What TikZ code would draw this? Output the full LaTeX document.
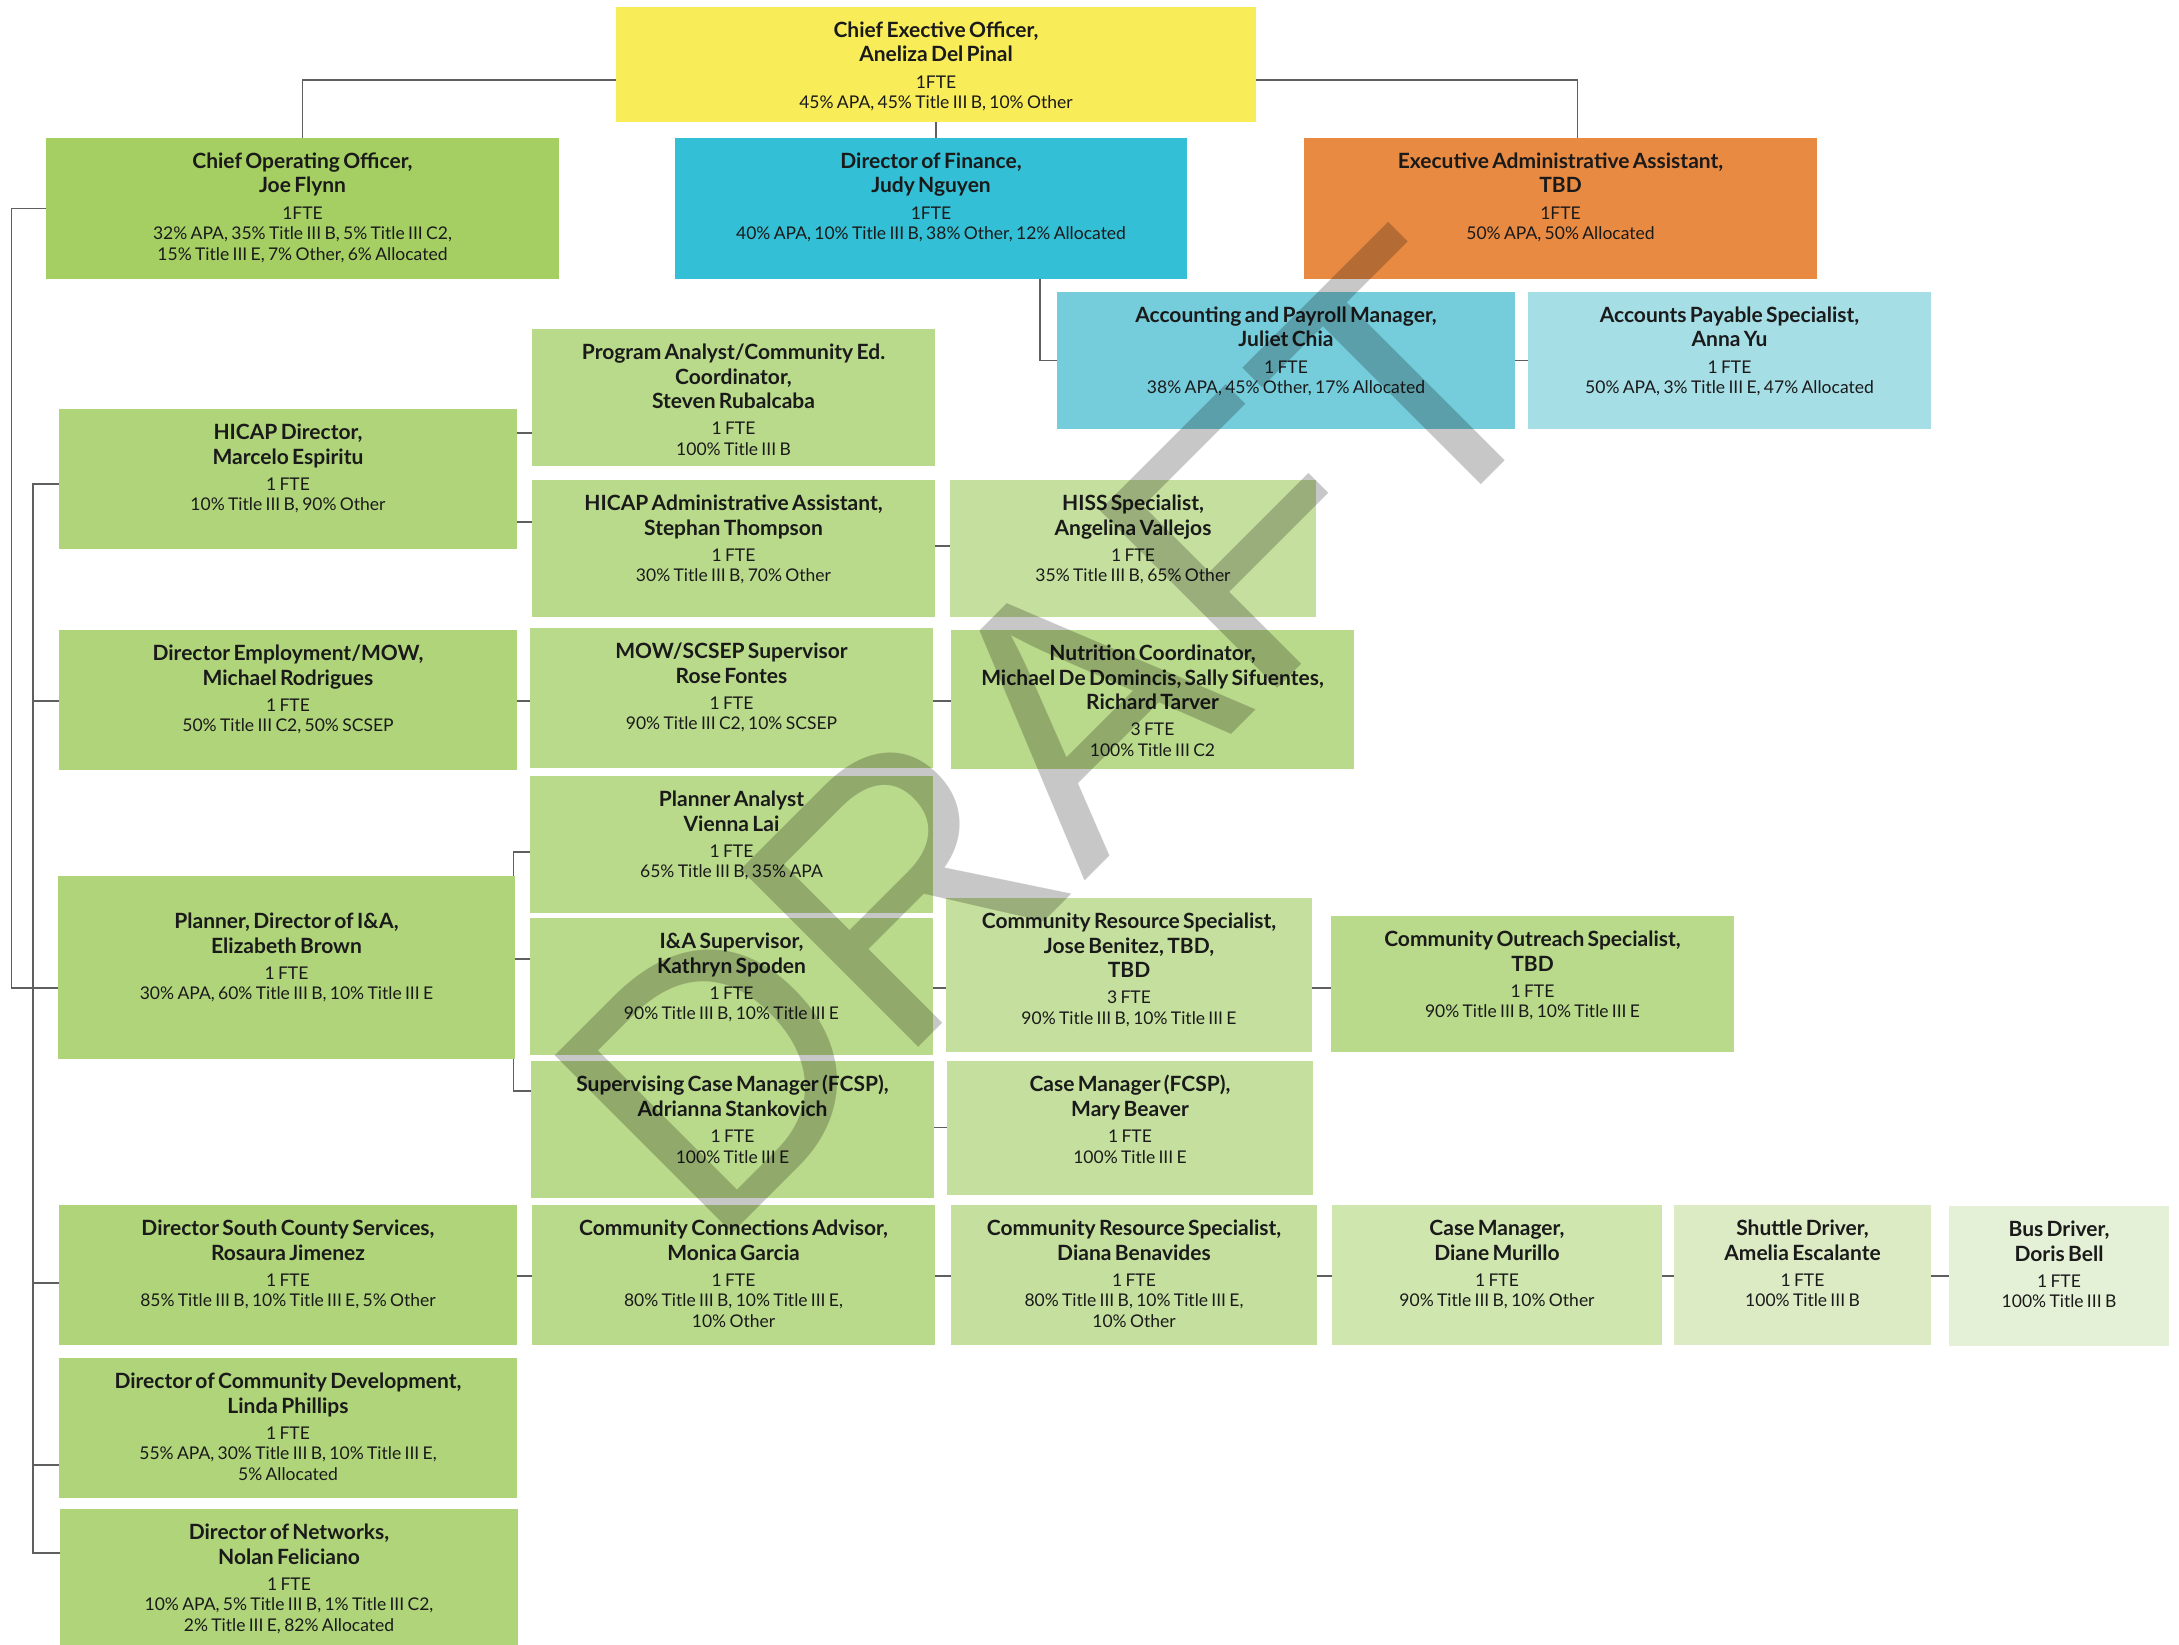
\documentclass[tikz,border=0pt]{standalone}
\usepackage{fontspec}
\setmainfont{Lato}
\newfontfamily\wmfont{Liberation Sans}
\usetikzlibrary{fit,backgrounds}
\setlength{\parindent}{0pt}
\setlength{\parskip}{0pt}
\definecolor{ceoY}{HTML}{F8EC58}
\definecolor{cooG}{HTML}{A5CF63}
\definecolor{finC}{HTML}{33BFD5}
\definecolor{eaaO}{HTML}{E98A43}
\definecolor{acctC}{HTML}{75CDDC}
\definecolor{apC}{HTML}{A6DEE6}
\definecolor{dirG}{HTML}{B0D47A}
\definecolor{lvlB}{HTML}{BADA8B}
\definecolor{lvlC}{HTML}{C5E09E}
\definecolor{murG}{HTML}{D0E6AF}
\definecolor{shutG}{HTML}{DCEBC4}
\definecolor{busG}{HTML}{E5F1D7}
\definecolor{connc}{HTML}{5F5F5F}
\definecolor{txtc}{HTML}{1A1A1A}
\tikzset{
  obox/.style={inner sep=0pt, outer sep=0pt, draw=none},
  otext/.style={inner sep=0pt, outer sep=0pt, align=center, text=txtc},
  conn/.style={line width=1.8pt, draw=connc},
}
\newcommand\ttl{\fontsize{21}{24.5}\selectfont\bfseries}
\newcommand\dtl{\fontsize{17.5}{20.5}\selectfont\mdseries}
\newcommand\obox[9]{%
  \pgfmathsetmacro\obw{#4-#2-6}%
  \node[obox, fill=#6, fit={(#2,#3) (#4,#5)}] (#1) {};
  \node[otext, text width=\obw pt, anchor=north] (#1-t) at ([yshift={-14.5pt-#9pt}]#1.north)
    {\ttl\rule{0pt}{16pt}#7\par\vspace{5.6pt}\dtl #8\par};
}
\begin{document}
\begin{tikzpicture}[x=1pt,y=-1pt]
\begin{pgfonlayer}{background}
\fill[white] (0,0) rectangle (2179,1645);
\end{pgfonlayer}
\useasboundingbox (0,0) rectangle (2179,1645);

\obox{ceo}{616}{7}{1256}{122}{ceoY}{Chief Exective Officer,\\Aneliza Del Pinal}{1FTE\\45\% APA, 45\% Title III B, 10\% Other}{0}
\obox{coo}{46}{138}{559}{279}{cooG}{Chief Operating Officer,\\Joe Flynn}{1FTE\\32\% APA, 35\% Title III B, 5\% Title III C2,\\15\% Title III E, 7\% Other, 6\% Allocated}{0}
\obox{fin}{675}{138}{1187}{279}{finC}{Director of Finance,\\Judy Nguyen}{1FTE\\40\% APA, 10\% Title III B, 38\% Other, 12\% Allocated}{0}
\obox{eaa}{1304}{138}{1817}{279}{eaaO}{Executive Administrative Assistant,\\TBD}{1FTE\\50\% APA, 50\% Allocated}{0}
\obox{acct}{1057}{292}{1515}{429}{acctC}{Accounting and Payroll Manager,\\Juliet Chia}{1 FTE\\38\% APA, 45\% Other, 17\% Allocated}{0}
\obox{ap}{1528}{292}{1931}{429}{apC}{Accounts Payable Specialist,\\Anna Yu}{1 FTE\\50\% APA, 3\% Title III E, 47\% Allocated}{0}

\obox{hicap}{59}{409}{517}{549}{dirG}{HICAP Director,\\Marcelo Espiritu}{1 FTE\\10\% Title III B, 90\% Other}{0}
\obox{prog}{532}{329}{935}{466}{lvlB}{Program Analyst/Community Ed.\\Coordinator,\\Steven Rubalcaba}{1 FTE\\100\% Title III B}{0}
\obox{hadmin}{532}{480}{935}{617}{lvlB}{HICAP Administrative Assistant,\\Stephan Thompson}{1 FTE\\30\% Title III B, 70\% Other}{0}
\obox{hiss}{950}{480}{1316}{617}{lvlC}{HISS Specialist,\\Angelina Vallejos}{1 FTE\\35\% Title III B, 65\% Other}{0}

\obox{emp}{59}{630}{517}{770}{dirG}{Director Employment/MOW,\\Michael Rodrigues}{1 FTE\\50\% Title III C2, 50\% SCSEP}{0}
\obox{mow}{530}{628}{933}{768}{lvlB}{MOW/SCSEP Supervisor\\Rose Fontes}{1 FTE\\90\% Title III C2, 10\% SCSEP}{0}
\obox{nutr}{951}{630}{1354}{769}{lvlB}{Nutrition Coordinator,\\Michael De Domincis, Sally Sifuentes,\\Richard Tarver}{3 FTE\\100\% Title III C2}{0}

\obox{plan}{58}{876}{515}{1059}{dirG}{Planner, Director of I\&A,\\Elizabeth Brown}{1 FTE\\30\% APA, 60\% Title III B, 10\% Title III E}{22}
\obox{pa}{530}{776}{933}{913}{lvlB}{Planner Analyst\\Vienna Lai}{1 FTE\\65\% Title III B, 35\% APA}{0}
\obox{ia}{530}{918}{933}{1055}{lvlB}{I\&A Supervisor,\\Kathryn Spoden}{1 FTE\\90\% Title III B, 10\% Title III E}{0}
\obox{scm}{531}{1061}{934}{1198}{lvlB}{Supervising Case Manager (FCSP),\\Adrianna Stankovich}{1 FTE\\100\% Title III E}{0}
\obox{crs}{946}{898}{1312}{1052}{lvlC}{Community Resource Specialist,\\Jose Benitez, TBD,\\TBD}{3 FTE\\90\% Title III B, 10\% Title III E}{0}
\obox{cos}{1331}{916}{1734}{1052}{lvlB}{Community Outreach Specialist,\\TBD}{1 FTE\\90\% Title III B, 10\% Title III E}{0}
\obox{cmf}{947}{1061}{1313}{1195}{lvlC}{Case Manager (FCSP),\\Mary Beaver}{1 FTE\\100\% Title III E}{0}

\obox{south}{59}{1205}{517}{1345}{dirG}{Director South County Services,\\Rosaura Jimenez}{1 FTE\\85\% Title III B, 10\% Title III E, 5\% Other}{0}
\obox{cca}{532}{1205}{935}{1345}{lvlB}{Community Connections Advisor,\\Monica Garcia}{1 FTE\\80\% Title III B, 10\% Title III E,\\10\% Other}{0}
\obox{diana}{951}{1205}{1317}{1345}{lvlC}{Community Resource Specialist,\\Diana Benavides}{1 FTE\\80\% Title III B, 10\% Title III E,\\10\% Other}{0}
\obox{murillo}{1332}{1205}{1662}{1345}{murG}{Case Manager,\\Diane Murillo}{1 FTE\\90\% Title III B, 10\% Other}{0}
\obox{shuttle}{1674}{1205}{1931}{1345}{shutG}{Shuttle Driver,\\Amelia Escalante}{1 FTE\\100\% Title III B}{0}
\obox{bus}{1949}{1206}{2169}{1346}{busG}{Bus Driver,\\Doris Bell}{1 FTE\\100\% Title III B}{0}
\obox{cdev}{59}{1358}{517}{1498}{dirG}{Director of Community Development,\\Linda Phillips}{1 FTE\\55\% APA, 30\% Title III B, 10\% Title III E,\\5\% Allocated}{0}
\obox{net}{60}{1509}{518}{1645}{dirG}{Director of Networks,\\Nolan Feliciano}{1 FTE\\10\% APA, 5\% Title III B, 1\% Title III C2,\\2\% Title III E, 82\% Allocated}{0}

\begin{pgfonlayer}{background}
\coordinate (ceoL) at (616,80);
\coordinate (ceoR) at (1256,80);
\draw[conn] (ceoL) -| (coo.north);
\draw[conn] (ceoR) -| ([xshift=17pt]eaa.north);
\draw[conn] (ceo.south) -- (ceo.south |- fin.north);
\coordinate (finJ) at (1040,279);
\draw[conn] (finJ) |- (acct.west);
\draw[conn] (acct.east) -- (ap.west);
\coordinate (sp1) at (11.5,988);
\draw[conn] (coo.west) -| (sp1) -- (sp1 -| plan.west);
\coordinate (b1) at (33,484);
\coordinate (b2) at (33,701);
\coordinate (b3) at (33,1283);
\coordinate (b4) at (33,1465);
\coordinate (b5) at (33,1553);
\draw[conn] (b1 -| hicap.west) -- (b1) -- (b5) -- (b5 -| net.west);
\draw[conn] (b2) -- (b2 -| emp.west);
\draw[conn] (b3) -- (b3 -| south.west);
\draw[conn] (b4) -- (b4 -| cdev.west);
\coordinate (s1) at (517,433);
\coordinate (s2) at (517,522);
\coordinate (s3) at (935,546);
\coordinate (s4) at (517,701);
\coordinate (s5) at (933,701);
\coordinate (s6) at (515,959);
\coordinate (s7) at (933,988);
\coordinate (s8) at (1312,988);
\coordinate (s9) at (934,1127.5);
\coordinate (s10) at (517,1276);
\coordinate (s11) at (935,1276);
\coordinate (s12) at (1317,1276);
\coordinate (s13) at (1662,1276);
\coordinate (s14) at (1931,1276);
\draw[conn] (s1) -- (s1 -| prog.west);
\draw[conn] (s2) -- (s2 -| hadmin.west);
\draw[conn] (s3) -- (s3 -| hiss.west);
\draw[conn] (s4) -- (s4 -| mow.west);
\draw[conn] (s5) -- (s5 -| nutr.west);
\coordinate (pt) at (513.4,852);
\coordinate (pb) at (513.4,1091);
\draw[conn] (pt -| pa.west) -- (pt) -- (pb) -- (pb -| scm.west);
\draw[conn] (s6) -- (s6 -| ia.west);
\draw[conn] (s7) -- (s7 -| crs.west);
\draw[conn] (s8) -- (s8 -| cos.west);
\draw[conn] (s9) -- (s9 -| cmf.west);
\draw[conn] (s10) -- (s10 -| cca.west);
\draw[conn] (s11) -- (s11 -| diana.west);
\draw[conn] (s12) -- (s12 -| murillo.west);
\draw[conn] (s13) -- (s13 -| shuttle.west);
\draw[conn] (s14) -- (s14 -| bus.west);
\end{pgfonlayer}

\node[rotate=45, anchor=base west, inner sep=0pt, text=black, text opacity=0.22,
  font=\wmfont\fontsize{365}{400}\selectfont] (wm) at (711.5,1254.5) {DRAFT};
\end{tikzpicture}
\end{document}
